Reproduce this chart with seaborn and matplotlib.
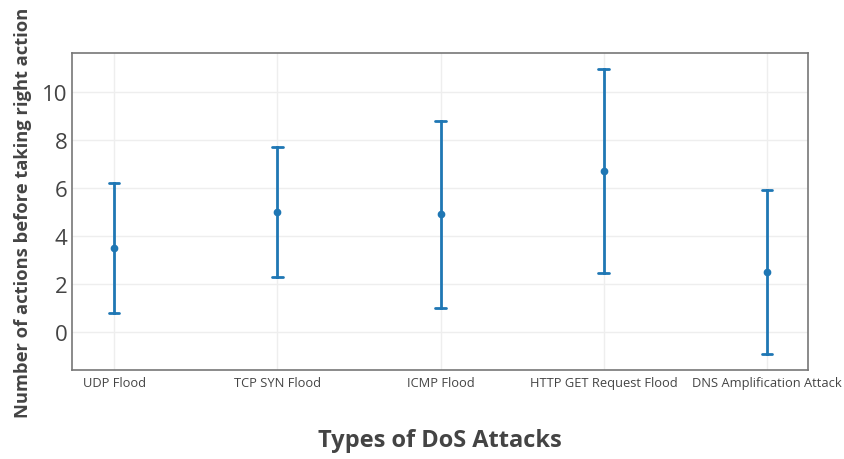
import pandas as pd
import matplotlib.pyplot as plt
import seaborn as sns

# ---data---
attacks = ["UDP Flood", "TCP SYN Flood", "ICMP Flood",
           "HTTP GET Request Flood", "DNS Amplification Attack"]
means = [3.5, 5.0, 4.9, 6.7, 2.5]
errors = [2.7, 2.7, 3.9, 4.25, 3.43]

# long table: low / mean / high per attack, so pointplot can draw mean + range
rows = []
for a, m, e in zip(attacks, means, errors):
    for v in (m - e, m, m + e):
        rows.append({"attack": a, "actions": v})
df = pd.DataFrame(rows)

sns.set_theme(style="whitegrid")
plt.rcParams['font.family'] = ['Open Sans', 'DejaVu Sans']

fig = plt.figure(figsize=(8.44, 4.6), dpi=100)
ax = fig.add_axes([0.085, 0.193, 0.872, 0.690])

sns.pointplot(data=df, x="attack", y="actions", order=attacks,
              estimator="median", errorbar=lambda v: (v.min(), v.max()),
              color="#1f77b4", linestyle="none", markersize=3.5,
              err_kws={"linewidth": 2}, capsize=0.065, ax=ax)

ax.set_xlim(-0.26, 4.25)
ax.set_ylim(-1.6, 11.64)
ax.set_yticks([0, 2, 4, 6, 8, 10])
ax.grid(True, color="#eeeeee", linewidth=1)
for s in ax.spines.values():
    s.set_color("#777777")
    s.set_linewidth(1.2)

ax.tick_params(axis="y", labelsize=16, colors="#444444", pad=3, length=0)
ax.tick_params(axis="x", labelsize=9.3, colors="#444444", pad=4, length=0)
ax.set_ylabel("Number of actions before taking right action", fontsize=13.2,
              fontweight="bold", color="#444444", labelpad=7)
ax.set_xlabel("Types of DoS Attacks", fontsize=17, fontweight="bold",
              color="#444444", labelpad=28)

fig.savefig("out.png", dpi=100)
